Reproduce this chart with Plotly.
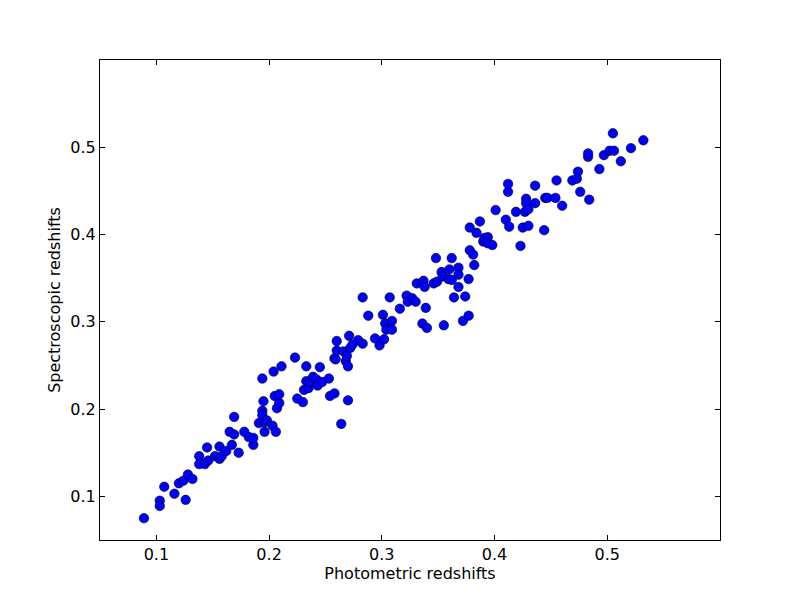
import plotly.graph_objects as go

photo_z = [0.089, 0.103, 0.103, 0.107, 0.116, 0.120, 0.124, 0.128, 0.126, 0.132,
           0.138, 0.138, 0.143, 0.145, 0.146, 0.152, 0.156, 0.156, 0.158, 0.162,
           0.165, 0.167, 0.169, 0.169, 0.173, 0.178, 0.182, 0.186, 0.186, 0.191,
           0.194, 0.194, 0.194, 0.195, 0.196, 0.196, 0.198, 0.203, 0.204, 0.205,
           0.206, 0.207, 0.209, 0.209, 0.211, 0.223, 0.225, 0.230, 0.231, 0.233,
           0.233, 0.235, 0.236, 0.239, 0.242, 0.243, 0.245, 0.247, 0.253, 0.254,
           0.258, 0.258, 0.259, 0.260, 0.260, 0.264, 0.266, 0.268, 0.269, 0.270,
           0.270, 0.271, 0.272, 0.274, 0.279, 0.283, 0.283, 0.288, 0.294, 0.298,
           0.301, 0.302, 0.303, 0.304, 0.307, 0.309, 0.309, 0.316, 0.322, 0.323,
           0.327, 0.330, 0.331, 0.336, 0.337, 0.338, 0.339, 0.340, 0.346, 0.348,
           0.349, 0.353, 0.354, 0.355, 0.359, 0.360, 0.362, 0.362, 0.364, 0.368,
           0.368, 0.368, 0.372, 0.374, 0.377, 0.377, 0.378, 0.378, 0.381, 0.382,
           0.384, 0.387, 0.390, 0.391, 0.394, 0.394, 0.398, 0.401, 0.410, 0.412,
           0.412, 0.413, 0.419, 0.423, 0.425, 0.427, 0.428, 0.428, 0.430, 0.430,
           0.436, 0.436, 0.444, 0.445, 0.447, 0.454, 0.455, 0.460, 0.469, 0.473,
           0.474, 0.476, 0.483, 0.483, 0.484, 0.493, 0.497, 0.502, 0.506, 0.505,
           0.512, 0.521, 0.532]

spec_z = [0.075, 0.095, 0.089, 0.111, 0.103, 0.115, 0.118, 0.125, 0.096, 0.120,
          0.146, 0.137, 0.137, 0.156, 0.141, 0.146, 0.157, 0.143, 0.146, 0.152,
          0.174, 0.159, 0.191, 0.171, 0.150, 0.174, 0.168, 0.159, 0.167, 0.184,
          0.235, 0.198, 0.193, 0.209, 0.174, 0.185, 0.187, 0.181, 0.243, 0.215,
          0.174, 0.201, 0.207, 0.217, 0.249, 0.259, 0.212, 0.208, 0.222, 0.249,
          0.232, 0.224, 0.231, 0.237, 0.234, 0.227, 0.248, 0.231, 0.235, 0.215,
          0.218, 0.258, 0.257, 0.267, 0.278, 0.183, 0.266, 0.255, 0.261, 0.249,
          0.210, 0.284, 0.270, 0.274, 0.279, 0.328, 0.275, 0.307, 0.281, 0.273,
          0.308, 0.280, 0.298, 0.291, 0.328, 0.301, 0.291, 0.315, 0.330, 0.323,
          0.327, 0.323, 0.344, 0.298, 0.347, 0.340, 0.316, 0.293, 0.344, 0.373,
          0.346, 0.357, 0.352, 0.296, 0.349, 0.360, 0.373, 0.348, 0.328, 0.362,
          0.354, 0.340, 0.301, 0.329, 0.307, 0.349, 0.382, 0.408, 0.377, 0.365,
          0.402, 0.415, 0.392, 0.396, 0.397, 0.390, 0.388, 0.428, 0.417, 0.449,
          0.458, 0.409, 0.426, 0.387, 0.408, 0.426, 0.441, 0.436, 0.410, 0.429,
          0.456, 0.436, 0.405, 0.442, 0.442, 0.442, 0.462, 0.433, 0.462, 0.464,
          0.472, 0.449, 0.489, 0.493, 0.440, 0.475, 0.491, 0.496, 0.496, 0.516,
          0.484, 0.499, 0.508]

tick_vals = [0.1, 0.2, 0.3, 0.4, 0.5]
tick_text = ["0.1", "0.2", "0.3", "0.4", "0.5"]

FONT = dict(family="DejaVu Sans", size=16, color="black")

fig = go.Figure()
fig.add_trace(go.Scatter(
    x=photo_z, y=spec_z, mode="markers",
    marker=dict(color="#0000ff", size=9.5, line=dict(color="black", width=0.6)),
    showlegend=False,
))

axis_common = dict(
    showline=True, linecolor="black", linewidth=1, mirror="ticks",
    ticks="inside", ticklen=5, tickwidth=1, tickcolor="black",
    showgrid=False, zeroline=False,
    tickvals=tick_vals, ticktext=tick_text,
    tickfont=FONT,
    range=[0.05, 0.6],
)

fig.update_xaxes(**axis_common,
                 title=dict(text="Photometric redshifts", font=FONT, standoff=0))
fig.update_yaxes(**axis_common,
                 title=dict(text="Spectroscopic redshifts", font=FONT, standoff=5))

# body margin of 8px is compensated so the axes box lands at 100..720 x 60..540
fig.update_layout(
    width=800, height=600,
    margin=dict(l=92, r=88, t=52, b=68),
    paper_bgcolor="white", plot_bgcolor="white",
)

fig.write_html("out.html")
